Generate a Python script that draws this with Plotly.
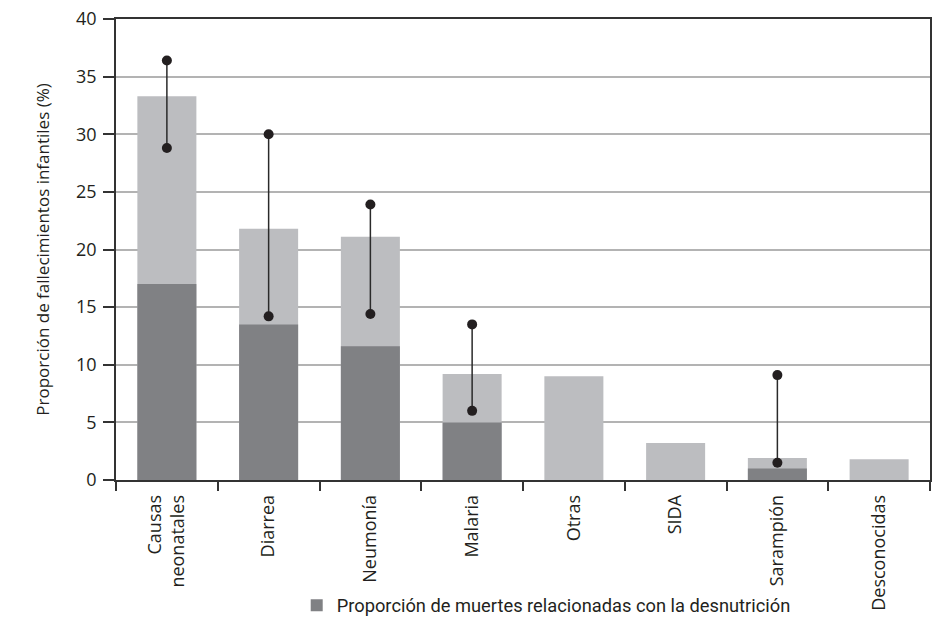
import plotly.graph_objects as go

categories = ["Causas<br>neonatales", "Diarrea", "Neumonía", "Malaria", "Otras", "SIDA", "Sarampión", "Desconocidas"]
total_share = [33.3, 21.8, 21.1, 9.2, 9.0, 3.2, 1.9, 1.8]
undernutrition_share = [17.0, 13.5, 11.6, 5.0, None, None, 1.0, None]
range_low = [28.8, 14.2, 14.4, 6.0, None, None, 1.5, None]
range_high = [36.4, 30.0, 23.9, 13.5, None, None, 9.1, None]

legend_label = "Proporción de muertes relacionadas con la desnutrición"
y_title = "Proporción de fallecimientos infantiles (%)"

LIGHT = "#bcbdc0"
DARK = "#808184"
INK = "#231f20"
TEXT = "#231f20"
TICK_FONT = "Open Sans"

fig = go.Figure()
fig.add_trace(go.Bar(x=categories, y=total_share, marker=dict(color=LIGHT, line=dict(width=0)),
                     width=0.58, showlegend=False, hoverinfo="skip"))
fig.add_trace(go.Bar(x=categories, y=undernutrition_share, marker=dict(color=DARK, line=dict(width=0)),
                     width=0.58, name=legend_label, showlegend=True))

# whisker segments with dots at both ends
wx, wy = [], []
for c, lo, hi in zip(categories, range_low, range_high):
    if lo is None:
        continue
    wx += [c, c, None]
    wy += [lo, hi, None]
fig.add_trace(go.Scatter(x=wx, y=wy, mode="lines+markers", showlegend=False,
                         line=dict(color="#2a2a2a", width=1.5),
                         marker=dict(color=INK, size=10), connectgaps=False))

fig.update_layout(
    width=947, height=632,
    margin=dict(l=116, r=17, t=19, b=152, autoexpand=False),
    paper_bgcolor="white", plot_bgcolor="white",
    barmode="overlay",
    font=dict(family=TICK_FONT, size=18, color=TEXT),
    legend=dict(orientation="h", x=0.222, y=0.042, xref="paper", yref="container",
                xanchor="left", yanchor="middle",
                font=dict(family="Liberation Sans Narrow, Roboto, sans-serif", size=18.3, color=TEXT),
                itemwidth=30, bgcolor="rgba(0,0,0,0)"),
)
fig.update_xaxes(
    type="category", tickson="boundaries", ticks="outside", ticklen=9, tickwidth=1.5,
    tickcolor="#333333", tickangle=-90, showline=True, linecolor="#333333", linewidth=1.5,
    mirror=True, showgrid=False, tickfont=dict(size=18, family=TICK_FONT, color=TEXT),
    automargin=False, ticklabelstandoff=6,
)
fig.update_yaxes(
    range=[0, 40], dtick=5, ticks="outside", ticklen=11, tickwidth=1.5, tickcolor="#333333",
    showline=True, linecolor="#333333", linewidth=1.5, mirror=True,
    showgrid=True, gridcolor="#b3b3b3", gridwidth=1.5, zeroline=False,
    tickfont=dict(size=18, family=TICK_FONT, color=TEXT), automargin=False,
    ticklabelstandoff=3,
    title=dict(text=y_title, font=dict(size=17, family=TICK_FONT, color=TEXT), standoff=22),
)

fig.write_html("out.html", post_script="document.body.style.margin='0';",
               config={"displayModeBar": False})
